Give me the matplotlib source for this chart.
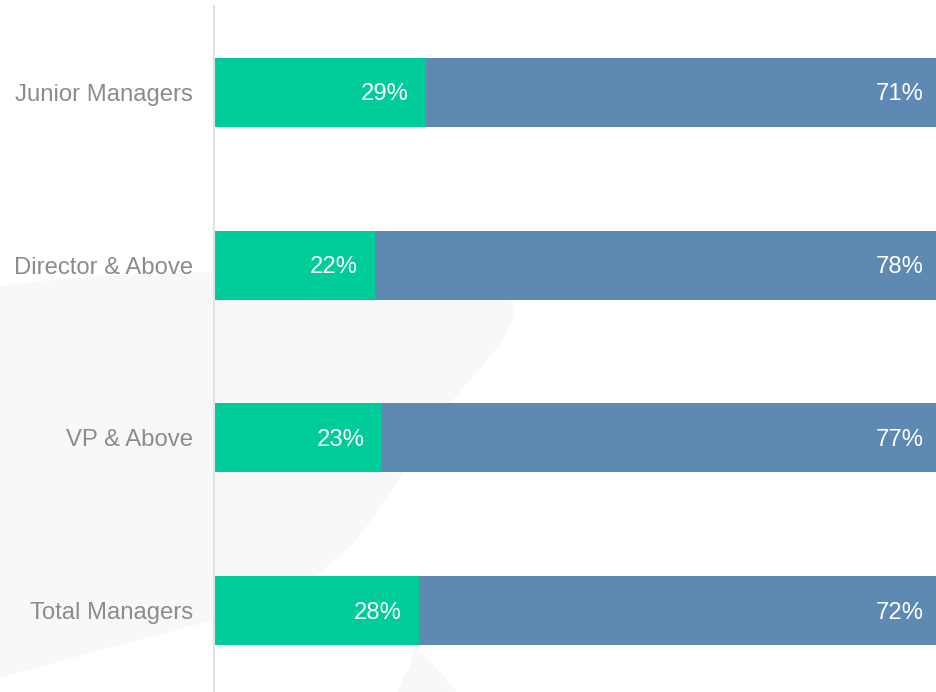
import matplotlib.pyplot as plt
from matplotlib.patches import Polygon

#data
categories = ["Junior Managers", "Director & Above", "VP & Above", "Total Managers"]
green_share = [29, 22, 23, 28]
blue_share = [71, 78, 77, 72]

green = '#00cc99'
blue = '#5d89b3'
label_grey = '#8c8c8c'

plt.rcParams['font.family'] = ['Liberation Sans', 'DejaVu Sans']

W, H = 936, 692
fig = plt.figure(figsize=(W / 100, H / 100), dpi=100)

#faint watermark shape behind the chart, on its own background axes
#(pixel coords, y from top)
bg = fig.add_axes([0, 0, 1, 1], zorder=0)
bg.set_xlim(0, W)
bg.set_ylim(H, 0)
bg.axis('off')
shape1 = [(0, 286), (60, 279), (140, 274), (214, 272), (330, 276), (440, 284),
          (495, 292), (512, 302), (514, 318), (500, 345), (453, 400), (403, 473),
          (357, 540), (320, 573), (290, 596), (250, 611), (214, 620), (100, 650),
          (0, 678)]
shape2 = [(415, 645), (440, 672), (457, 692), (397, 692), (410, 665)]
for s in (shape1, shape2):
    bg.add_patch(Polygon(s, closed=True, facecolor='#f8f8f8', edgecolor='none'))

ax = fig.add_axes([214 / W, -5 / H, (945 - 214) / W, 691 / H], zorder=1)
ax.set_facecolor('none')

ypos = list(range(len(categories)))
ax.barh(ypos, green_share, height=0.4, color=green, zorder=2)
ax.barh(ypos, blue_share, left=green_share, height=0.4, color=blue, zorder=2)

#percent labels inside the right end of each segment
for i in ypos:
    ax.annotate(f"{green_share[i]}%", (green_share[i], i), xytext=(-12.5, -1.5),
                textcoords='offset points', ha='right', va='center',
                color='white', fontsize=17.2, zorder=3)
    ax.annotate(f"{blue_share[i]}%", (green_share[i] + blue_share[i], i),
                xytext=(-15.5, -1.5), textcoords='offset points', ha='right',
                va='center', color='white', fontsize=17.2, zorder=3)

ax.set_xlim(0, 100)
ax.set_ylim(len(categories) - 0.5, -0.5)
ax.set_yticks(ypos)
ax.set_yticklabels(categories, fontsize=17.2, color=label_grey)
ax.tick_params(axis='y', length=0, pad=15)
ax.set_xticks([])
for side in ['top', 'right', 'bottom']:
    ax.spines[side].set_visible(False)
ax.spines['left'].set_color('#e3e3e3')
ax.spines['left'].set_linewidth(1.5)

fig.savefig('out.png', dpi=100)
